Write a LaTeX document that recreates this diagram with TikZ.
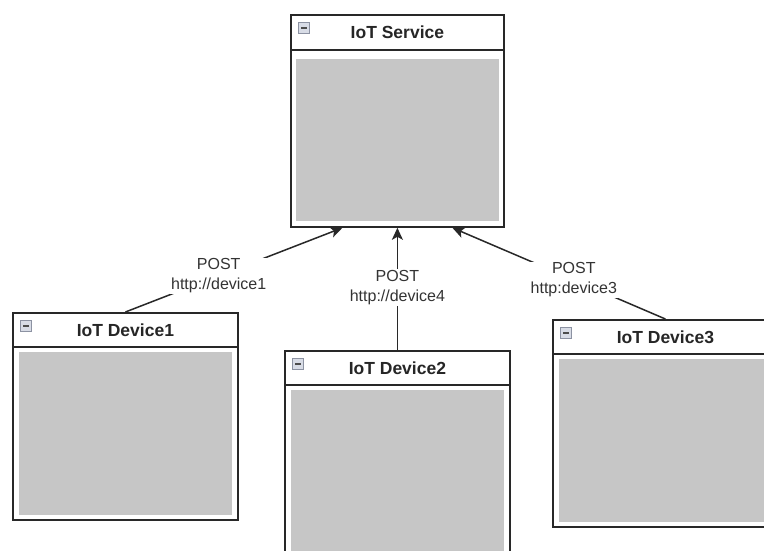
\documentclass[tikz,border=0pt]{standalone}
\usepackage{fontspec}
\setmainfont{Liberation Sans}
\usetikzlibrary{positioning,arrows.meta}

\definecolor{lineColor}{RGB}{40,40,40}
\definecolor{bodyColor}{RGB}{198,198,198}
\definecolor{iconColor}{RGB}{216,220,230}
\definecolor{iconEdge}{RGB}{140,146,162}

\tikzset{
  box/.style={draw=lineColor, line width=1.8pt, fill=white, anchor=north west, inner sep=0pt},
  head/.style={draw=lineColor, line width=1.8pt, fill=white, anchor=north, inner sep=0pt,
    minimum height=34pt, text=black!85, font=\fontsize{17.5}{20}\selectfont\bfseries},
  body/.style={fill=bodyColor, inner sep=0pt},
  minus/.style={draw=iconEdge, fill=iconColor, line width=0.8pt, minimum size=11pt, inner sep=0pt,
    path picture={\draw[line width=1.6pt, black!70]
      ([xshift=-3pt]path picture bounding box.center) -- ([xshift=3pt]path picture bounding box.center);}},
  req/.style={fill=white, align=center, inner sep=1pt, text=black!80,
    font=\fontsize{16}{20}\selectfont},
  link/.style={draw=lineColor, line width=1.5pt, -{Stealth[length=12pt,width=11pt,inset=3pt]}},
}

\begin{document}
\begin{tikzpicture}[x=1pt,y=-1pt]
  \useasboundingbox (0,0) rectangle (764,550);
  \fill[white] (0,0) rectangle (764,550);
  \clip (0,0) rectangle (764,550);
  % Service
  \node[box, minimum width=213pt, minimum height=212pt] (svc) at (290,14) {};
  \node[head, minimum width=213pt, minimum height=35pt] (svc-head) at (svc.north) {IoT Service};
  \node[body, minimum width=203pt, minimum height=162pt, below=8pt of svc-head] (svc-body) {};
  \node[minus] (svc-min) at ([xshift=14pt,yshift=-14pt]svc.north west) {};
  % Devices
  \node[box, minimum width=225pt, minimum height=207pt] (dev1) at (12,312) {};
  \node[head, minimum width=225pt] (dev1-head) at (dev1.north) {IoT Device1};
  \node[body, minimum width=213pt, minimum height=163pt, below=4pt of dev1-head] (dev1-body) {};
  \node[minus] (dev1-min) at ([xshift=14pt,yshift=-14pt]dev1.north west) {};
  \node[box, minimum width=225pt, minimum height=207pt] (dev2) at (284,350) {};
  \node[head, minimum width=225pt] (dev2-head) at (dev2.north) {IoT Device2};
  \node[body, minimum width=213pt, minimum height=163pt, below=4pt of dev2-head] (dev2-body) {};
  \node[minus] (dev2-min) at ([xshift=14pt,yshift=-14pt]dev2.north west) {};
  \node[box, minimum width=225pt, minimum height=207pt] (dev3) at (552,319) {};
  \node[head, minimum width=225pt] (dev3-head) at (dev3.north) {IoT Device3};
  \node[body, minimum width=213pt, minimum height=163pt, below=4pt of dev3-head] (dev3-body) {};
  \node[minus] (dev3-min) at ([xshift=14pt,yshift=-14pt]dev3.north west) {};
  % Requests
  \draw[link] (dev1.north) -- node[req, pos=0.43] (req1) {POST\\http://device1} ([xshift=-55pt]svc.south);
  \draw[link] (dev2.north) -- node[req, pos=0.51] (req2) {POST\\http://device4} (svc.south);
  \draw[link] (dev3.north) -- node[req, pos=0.43] (req3) {POST\\http:device3} ([xshift=55pt]svc.south);
\end{tikzpicture}
\end{document}
